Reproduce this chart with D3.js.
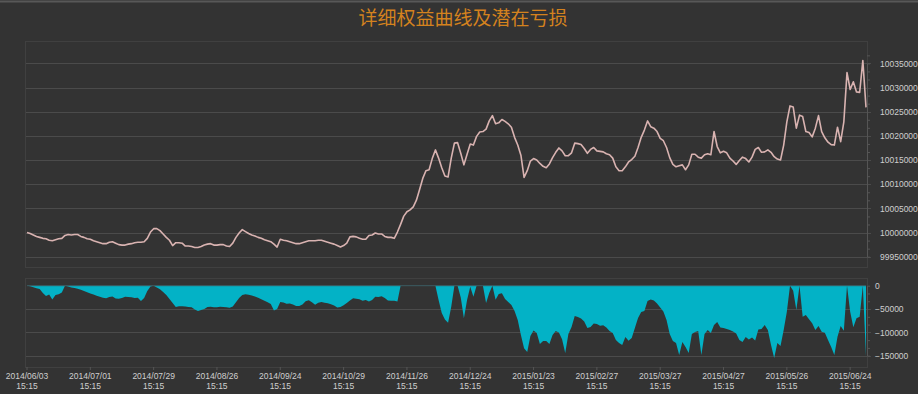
<!DOCTYPE html>
<html>
<head>
<meta charset="utf-8">
<script src="https://cdn.jsdelivr.net/npm/d3@7/dist/d3.min.js"></script>
<style>
  html, body { margin: 0; padding: 0; background: #333333; }
  svg { display: block; }
  .tick-text { font-family: "Liberation Sans", Arial, sans-serif; font-size: 8.5px; fill: #cfcfcf; }
</style>
</head>
<body>
<div id="chart"></div>
<script>
const title = '详细权益曲线及潜在亏损';

// x axis labels, one every 20 trading days
const tickIndex = [0, 20, 40, 60, 80, 100, 120, 140, 160, 180, 200, 220, 240, 260];
const tickDates = ['2014/06/03', '2014/07/01', '2014/07/29', '2014/08/26', '2014/09/24', '2014/10/29', '2014/11/26',
  '2014/12/24', '2015/01/23', '2015/02/27', '2015/03/27', '2015/04/27', '2015/05/26', '2015/06/24'];
const tickTime = '15:15';

const equityTicks = [9995000, 10000000, 10005000, 10010000, 10015000, 10020000, 10025000, 10030000, 10035000];
const equityTickLabels = ['99950000', '10000000', '10005000', '10010000', '10015000', '10020000', '10025000', '10030000', '10035000'];
const drawdownTicks = [0, -50000, -100000, -150000];

// daily equity (one value per trading day)
const equity = [
  10000000, 9999800, 9999500, 9999200, 9999000, 9998800, 9998700, 9998400, 9998300, 9998500,
  9998700, 9998800, 9999400, 9999600, 9999500, 9999600, 9999600, 9999200, 9999000, 9998700,
  9998600, 9998300, 9998100, 9997900, 9997700, 9997700, 9998000, 9998100, 9997800, 9997500,
  9997400, 9997400, 9997600, 9997700, 9997900, 9998000, 9998000, 9998100, 9998800, 10000100,
  10000800, 10000800, 10000400, 9999700, 9999000, 9998400, 9997300, 9997900, 9997900, 9997800,
  9997200, 9997200, 9997100, 9996900, 9996900, 9997100, 9997400, 9997600, 9997700, 9997400,
  9997400, 9997500, 9997500, 9997200, 9997100, 9997800, 9999000, 9999900, 10000600, 10000200,
  9999800, 9999500, 9999300, 9999000, 9998800, 9998500, 9998300, 9998100, 9997600, 9997000,
  9998600, 9998400, 9998300, 9998100, 9997900, 9997700, 9997700, 9997900, 9998100, 9998300,
  9998300, 9998300, 9998400, 9998400, 9998200, 9998000, 9997800, 9997600, 9997300, 9997000,
  9997300, 9997800, 9999100, 9999200, 9999100, 9998800, 9998600, 9998600, 9999400, 9999500,
  9999900, 9999700, 9999700, 9999200, 9999000, 9999000, 9998800, 10000100, 10001700, 10003400,
  10004300, 10004700, 10005300, 10006700, 10008900, 10011200, 10012800, 10013000, 10015300, 10017100,
  10015400, 10013400, 10011700, 10011500, 10015400, 10018500, 10018600, 10016400, 10014000, 10016200,
  10018300, 10018100, 10019900, 10020800, 10020900, 10021400, 10023100, 10024200, 10022500, 10022700,
  10023400, 10023000, 10022500, 10021800, 10019700, 10018100, 10016000, 10011400, 10012800, 10014800,
  10015300, 10015000, 10014300, 10013700, 10013400, 10014200, 10015500, 10016600, 10017500, 10016900,
  10015900, 10015900, 10016500, 10018500, 10018400, 10018200, 10017400, 10016400, 10017200, 10017600,
  10016900, 10016800, 10016700, 10016300, 10016100, 10015400, 10013600, 10012800, 10012800, 10013600,
  10014600, 10015100, 10015800, 10017600, 10019700, 10021200, 10023100, 10021900, 10021600, 10020900,
  10019500, 10019000, 10017600, 10015500, 10014100, 10013600, 10013800, 10014000, 10013000, 10014000,
  10016200, 10016200, 10015600, 10015400, 10016100, 10016300, 10016100, 10020900, 10017800, 10016500,
  10016800, 10016500, 10015400, 10014800, 10014100, 10014900, 10015600, 10015300, 10014600, 10015600,
  10017200, 10017600, 10016600, 10016700, 10017100, 10016600, 10015700, 10015200, 10015000, 10018100,
  10022900, 10026200, 10026000, 10021600, 10024300, 10024000, 10020900, 10020700, 10019800, 10021600,
  10024200, 10020900, 10019600, 10018700, 10018200, 10018100, 10021800, 10018800, 10022900, 10033100,
  10029600, 10031200, 10029100, 10029000, 10035600, 10025900
];

// potential loss (drawdown) per trading day
const drawdown = [
  0, -1100, -3400, -5600, -6900, -15600, -22100, -18900, -29600, -19900,
  -18400, -14600, 0, -1900, -3900, -4900, -6400, -8600, -11400, -13900,
  -16500, -18900, -21400, -23600, -25700, -26800, -24200, -23400, -27200, -28100,
  -26400, -23600, -24300, -24900, -26400, -25900, -32800, -26400, -11400, -1700,
  0, -3900, -7700, -13500, -19900, -28500, -37100, -45600, -44100, -44100,
  -44800, -45600, -46100, -51000, -54200, -52100, -49900, -45600, -45200, -46100,
  -46100, -45200, -45600, -46300, -47100, -44600, -35600, -26400, -19900, -18400,
  -19500, -21200, -23100, -25900, -28900, -32100, -35600, -39200, -53100, -49900,
  -34900, -36000, -38800, -37900, -40500, -43500, -43500, -40300, -33400, -31300,
  -35600, -40900, -36400, -34900, -36400, -37700, -39600, -42200, -46700, -45600,
  -41800, -37100, -31700, -27000, -28100, -29100, -32100, -30600, -33900, -30600,
  -23800, -24400, -22500, -26400, -31700, -32400, -32400, -34100, 0, 0,
  0, 0, 0, 0, 0, 0, 0, 0, 0, 0,
  -30600, -58500, -72400, -79300, -45000, 0, 0, -25300, -70000, -30600,
  -2000, -23600, 0, 0, 0, -37000, -15600, 0, -30000, -17800,
  -16300, -28500, -34900, -41400, -54200, -73500, -105600, -134200, -142100, -107800,
  -96000, -101400, -124900, -118500, -118500, -124900, -105600, -97100, -100300, -115000,
  -144200, -103500, -88500, -64900, -67100, -70500, -76700, -90600, -88500, -81000,
  -82100, -85900, -84900, -89600, -97100, -101400, -116400, -122800, -127100, -109900,
  -118000, -112100, -90600, -69200, -56400, -54200, -32800, -29600, -31700, -38100,
  -46700, -55300, -73500, -103500, -118500, -122800, -148500, -120600, -131400, -144200,
  -103500, -99200, -97100, -148500, -103500, -94900, -101400, -84200, -77800, -89600,
  -90600, -92800, -94900, -98100, -102400, -116400, -120600, -109900, -115300, -111000,
  -117400, -93900, -92800, -84200, -94900, -127100, -154900, -122800, -129000, -94900,
  -55700, 0, -10700, -52100, 0, -66400, -62800, -72000, -80600, -94900,
  -86400, -98600, -100700, -116400, -131400, -148500, -109300, -86400, -96400, 0,
  -55700, -89100, -69900, -66400, 0, -150600
];

const width = 918;
const height = 394;
const plotLeft = 25;
const plotRight = 867;
const topPanel = { top: 41, bottom: 267 };
const bottomPanel = { top: 278, bottom: 367 };

const svg = d3.select('#chart')
  .append('svg')
    .attr('width', width)
    .attr('height', height);

svg.append('rect')
  .attr('width', width)
  .attr('height', height)
  .attr('fill', '#333333');

svg.append('line')
  .attr('x1', 0).attr('x2', width)
  .attr('y1', 1.5).attr('y2', 1.5)
  .attr('stroke', '#585858')
  .attr('stroke-width', 2);

svg.append('text')
  .attr('x', 463)
  .attr('y', 25)
  .attr('text-anchor', 'middle')
  .attr('font-family', '"Noto Sans CJK SC", sans-serif')
  .attr('font-size', 19)
  .attr('fill', '#d4821e')
  .text(title);

const x = d3.scaleLinear().domain([0, equity.length - 1]).range([27, 866]);
const yEq = d3.scaleLinear().domain([9995000, 10035000]).range([256.7, 63.4]);
const yDd = d3.scaleLinear().domain([-150000, 0]).range([355.7, 285.7]);

// panel frames
[topPanel, bottomPanel].forEach((p) => {
  svg.append('rect')
    .attr('x', plotLeft + 0.5)
    .attr('y', p.top + 0.5)
    .attr('width', plotRight - plotLeft)
    .attr('height', p.bottom - p.top)
    .attr('fill', 'none')
    .attr('stroke', '#404040');
});

// grid lines
svg.append('g')
  .selectAll('line')
    .data(equityTicks)
    .enter()
    .append('line')
      .attr('x1', plotLeft + 1)
      .attr('x2', plotRight + 4)
      .attr('y1', d => Math.round(yEq(d)) + 0.5)
      .attr('y2', d => Math.round(yEq(d)) + 0.5)
      .attr('stroke', '#4b4b4b');

svg.append('g')
  .selectAll('line')
    .data(drawdownTicks.filter(d => d !== 0))
    .enter()
    .append('line')
      .attr('x1', plotLeft + 1)
      .attr('x2', plotRight + 4)
      .attr('y1', d => Math.round(yDd(d)) + 0.5)
      .attr('y2', d => Math.round(yDd(d)) + 0.5)
      .attr('stroke', '#4b4b4b');

// drawdown area
const area = d3.area()
  .x((d, i) => x(i))
  .y0(yDd(0))
  .y1(d => yDd(d));

svg.append('path')
  .datum(drawdown)
  .attr('d', area)
  .attr('fill', '#03b2c6');

svg.append('line')
  .attr('x1', x(0)).attr('x2', x(drawdown.length - 1))
  .attr('y1', yDd(0)).attr('y2', yDd(0))
  .attr('stroke', '#3c5d63');

// equity line
const line = d3.line()
  .x((d, i) => x(i))
  .y(d => yEq(d));

svg.append('path')
  .datum(equity)
  .attr('d', line)
  .attr('fill', 'none')
  .attr('stroke', '#d9b3b1')
  .attr('stroke-width', 1.6)
  .attr('stroke-linejoin', 'round');

// right axes, minor ticks at thirds of each step
function minorTicks(ticks) {
  const step = (ticks[1] - ticks[0]) / 3;
  const out = [];
  ticks.slice(0, -1).forEach((t) => {
    out.push(t + step, t + 2 * step);
  });
  return out;
}

function styleAxis(g) {
  g.select('.domain').attr('stroke', '#555555');
  g.selectAll('.tick line').attr('stroke', '#555555');
  g.selectAll('.tick text').attr('class', 'tick-text');
}

const eqMinor = d3.axisRight(yEq)
  .tickValues(minorTicks(equityTicks).concat([10035000 + 5000 / 3]))
  .tickFormat('')
  .tickSizeOuter(0)
  .tickSize(3);

svg.append('g')
  .attr('transform', `translate(${plotRight},0)`)
  .call(eqMinor)
  .call(styleAxis);

const ddMinor = d3.axisRight(yDd)
  .tickValues(minorTicks(drawdownTicks.slice().reverse()))
  .tickFormat('')
  .tickSizeOuter(0)
  .tickSize(3);

svg.append('g')
  .attr('transform', `translate(${plotRight},0)`)
  .call(ddMinor)
  .call(styleAxis);

const eqAxis = d3.axisRight(yEq)
  .tickValues(equityTicks)
  .tickFormat((d, i) => equityTickLabels[i])
  .tickSize(0)
  .tickPadding(13);

const ddAxis = d3.axisRight(yDd)
  .tickValues(drawdownTicks)
  .tickFormat(d3.format('d'))
  .tickSize(0)
  .tickPadding(8);

svg.append('g')
  .attr('transform', `translate(${plotRight},0)`)
  .call(eqAxis)
  .call(styleAxis);

svg.append('g')
  .attr('transform', `translate(${plotRight},0)`)
  .call(ddAxis)
  .call(styleAxis);

// x axis labels
const xLabels = svg.append('g')
  .selectAll('g')
    .data(tickIndex)
    .enter()
    .append('g')
      .attr('transform', d => `translate(${x(d)},0)`);

xLabels.append('line')
  .attr('y1', bottomPanel.bottom)
  .attr('y2', bottomPanel.bottom + 3)
  .attr('stroke', '#555555');

xLabels.append('text')
  .attr('class', 'tick-text')
  .attr('text-anchor', 'middle')
  .attr('y', 379)
  .text((d, i) => tickDates[i]);

xLabels.append('text')
  .attr('class', 'tick-text')
  .attr('text-anchor', 'middle')
  .attr('y', 389)
  .text(tickTime);
</script>
</body>
</html>
